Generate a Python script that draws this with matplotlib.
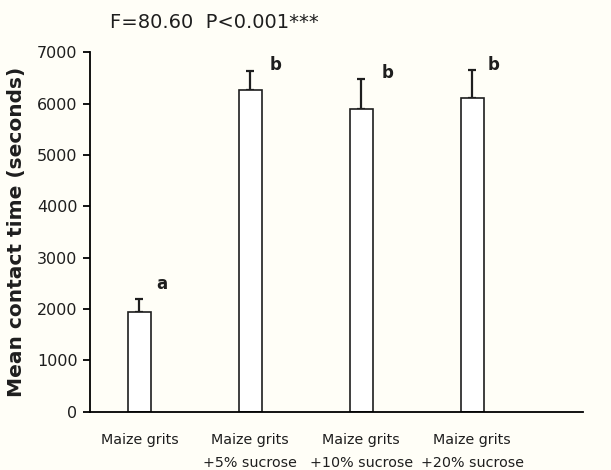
import matplotlib
matplotlib.use("Agg")
import matplotlib.pyplot as plt
import numpy as np

categories = ["Maize grits", "Maize grits\n+5% sucrose", "Maize grits\n+10% sucrose", "Maize grits\n+20% sucrose"]
means = [1940, 6270, 5890, 6110]
errors = [245, 355, 580, 545]
letters = ["a", "b", "b", "b"]
yticks = [0, 1000, 2000, 3000, 4000, 5000, 6000, 7000]
title = "F=80.60  P<0.001***"

bg = "#fffef7"
ink = "#1e1e1e"
plt.rcParams['font.family'] = ['DejaVu Sans']
fig = plt.figure(figsize=(6.11, 4.70), dpi=100, facecolor=bg)
ax = fig.add_axes([0.1473, 0.124, 0.8067, 0.765], facecolor=bg)

x = np.arange(len(categories))
ax.bar(x, means, width=0.207, color="white", edgecolor=ink, linewidth=1.2, zorder=2)
ax.errorbar(x, means, yerr=[np.zeros(len(errors)), errors], fmt="none", ecolor=ink,
            elinewidth=1.6, capsize=3, capthick=1.6, zorder=1)

letter_dy = [310, 120, 130, 90]
letter_dx = [0.2, 0.23, 0.24, 0.19]
for xi, m, e, l, dy, dx in zip(x, means, errors, letters, letter_dy, letter_dx):
    ax.text(xi + dx, m + e + dy, l, ha="center", va="center", fontsize=12, fontweight="bold", color=ink)

ax.set_xlim(-0.446, 4.0)
ax.set_ylim(0, 7000)
ax.set_yticks(yticks)
ax.set_yticklabels([str(t) for t in yticks], fontsize=11.5, color=ink)
ax.set_xticks(x)
ax.set_xticklabels(categories, fontsize=10.3, color=ink, linespacing=1.85)
ax.tick_params(axis="x", length=0, pad=15)
ax.tick_params(axis="y", length=5, width=1.3, direction="out", pad=4)
for s in ["top", "right"]:
    ax.spines[s].set_visible(False)
ax.spines["left"].set_linewidth(1.3)
ax.spines["bottom"].set_linewidth(1.3)
ax.set_ylabel("Mean contact time (seconds)", fontsize=14.5, fontweight="bold", color=ink, labelpad=8)
fig.text(0.18, 0.952, title, fontsize=14, color=ink, ha="left", va="center")

fig.savefig("out.png", dpi=100, facecolor=bg)
